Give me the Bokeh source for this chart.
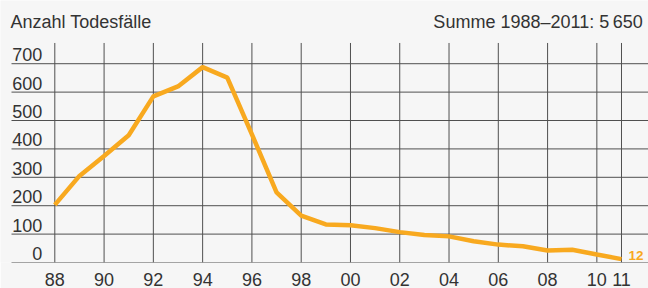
from bokeh.plotting import figure
from bokeh.models import ColumnDataSource, FixedTicker, Range1d
from bokeh.core.properties import value
from bokeh.embed import file_html
from bokeh.resources import INLINE

years = list(range(1988, 2012))
deaths = [203, 305, 375, 448, 585, 620, 688, 651, 451, 247, 165, 134,
          131, 121, 107, 97, 92, 75, 63, 57, 42, 45, 28, 12]
x_ticks = [1988, 1990, 1992, 1994, 1996, 1998, 2000, 2002, 2004, 2006, 2008, 2010, 2011]
x_tick_labels = {t: f"{t % 100:02d}" for t in x_ticks}
y_ticks = [0, 100, 200, 300, 400, 500, 600, 700]
y_top = 773
title_left = "Anzahl Todesfälle"
title_right = "Summe 1988–2011: 5\u2009650"

BG = "#f6f6f6"
GRID = "#505050"
ORANGE = "#f8a91f"
TXT = "#333333"
FONT = "Liberation Sans"

x0, x1 = 1985.796, 2012.096
x_left = 1986.243
y0, y1 = 0, 922.6

p = figure(width=648, height=288, output_backend="svg", toolbar_location=None,
           x_range=Range1d(x0, x1), y_range=Range1d(y0, y1),
           y_axis_location=None, min_border_left=0, min_border_right=0,
           min_border_top=0, min_border_bottom=24)
p.background_fill_color = BG
p.border_fill_color = BG
p.outline_line_color = None

# x axis (labels only)
ax = p.xaxis[0]
ax.ticker = FixedTicker(ticks=x_ticks)
ax.major_label_overrides = x_tick_labels
ax.major_tick_line_color = None
ax.minor_tick_line_color = None
ax.axis_line_color = None
ax.major_label_text_font = FONT
ax.major_label_text_font_size = "18px"
ax.major_label_text_color = TXT
ax.major_label_standoff = 4

p.xgrid.visible = False
p.ygrid.visible = False

# horizontal grid lines (incl. baseline)
hsrc = ColumnDataSource(dict(x0=[x_left] * len(y_ticks), x1=[x1] * len(y_ticks), y=y_ticks))
p.segment(x0="x0", y0="y", x1="x1", y1="y", source=hsrc,
          line_color=GRID, line_width=1)

# vertical grid lines, from 0 up to the top of the grid
vsrc = ColumnDataSource(dict(x=x_ticks, y0=[0] * len(x_ticks), y1=[y_top] * len(x_ticks)))
p.segment(x0="x", y0="y0", x1="x", y1="y1", source=vsrc,
          line_color=GRID, line_width=1)

# y labels inside plot
ysrc = ColumnDataSource(dict(x=[x_left] * len(y_ticks), y=y_ticks,
                             t=[str(v) for v in y_ticks]))
p.text(x="x", y="y", text="t", source=ysrc, text_align="right",
       text_baseline="alphabetic", x_offset=30.7, y_offset=-9,
       text_font=value(FONT), text_font_size="18px", text_color=TXT)

src = ColumnDataSource(dict(x=years, y=deaths))
p.line(x="x", y="y", source=src, line_color=ORANGE, line_width=4.5)

end_src = ColumnDataSource(dict(x=[years[-1]], y=[deaths[-1]], t=[str(deaths[-1])]))
p.text(x="x", y="y", text="t", source=end_src, text_align="left",
       text_baseline="alphabetic", x_offset=7, y_offset=-4,
       text_font=value(FONT), text_font_size="13.5px", text_font_style="bold",
       text_color=ORANGE)

tsrc = ColumnDataSource(dict(x=[x_left, x1], y=[846, 846], t=[title_left, title_right],
                             a=["left", "right"], dx=[-1, -5.7]))
p.text(x="x", y="y", text="t", source=tsrc, text_align="a", x_offset="dx",
       text_baseline="alphabetic", text_font=value(FONT), text_font_size="18px",
       text_color=TXT)

open("out.html", "w").write(file_html(p, INLINE))
